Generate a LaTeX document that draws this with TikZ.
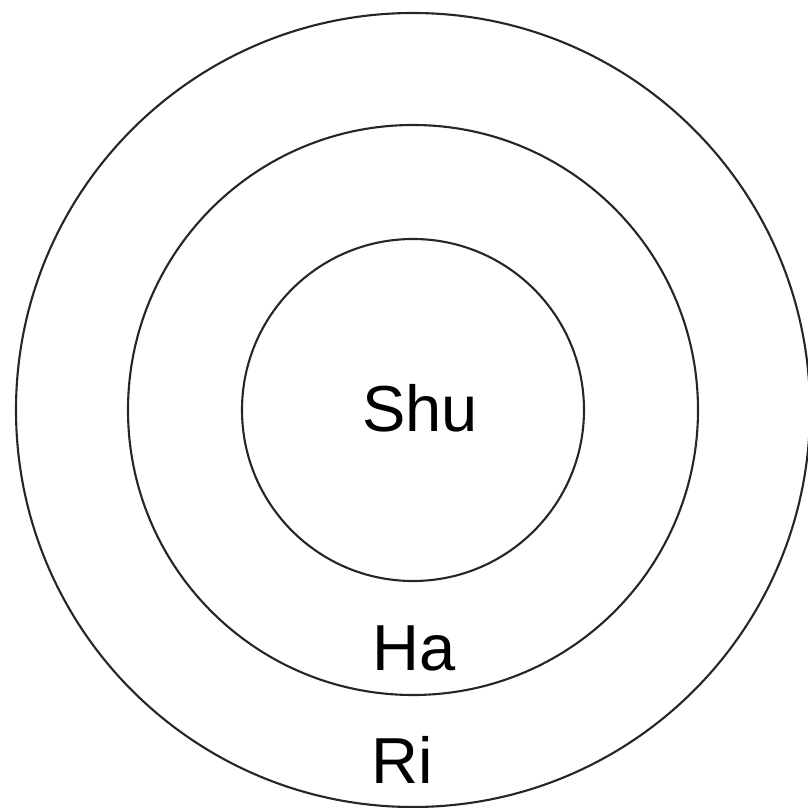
\documentclass[tikz,border=0pt]{standalone}
\usepackage{fontspec}
\setmainfont{Liberation Sans}
\begin{document}
\begin{tikzpicture}[line join=round, line cap=round,
	ring/.style={draw=black!85, line width=0.6pt},
	lbl/.style={inner sep=0pt, font=\fontsize{18.5}{22}\selectfont}]
	\useasboundingbox (0,0) rectangle (8.08,8.08);
	\coordinate (o) at (4.13,3.98);
	\draw[ring] (o) circle (3.97);
	\draw[ring] (o) circle (2.85);
	\draw[ring] (o) circle (1.71);
	\node[lbl] (shu) at (4.20,4.00) {Shu};
	\node[lbl] (ha) at (4.14,1.60) {Ha};
	\node[lbl] (ri) at (4.02,0.48) {Ri};
\end{tikzpicture}
\end{document}
